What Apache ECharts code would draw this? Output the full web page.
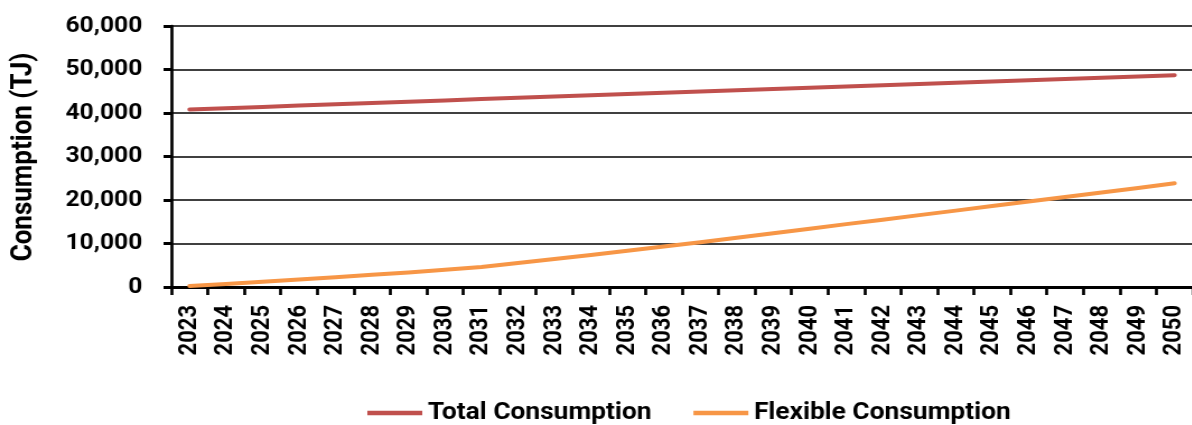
<!DOCTYPE html>
<html>
<head>
<meta charset="utf-8">
<title>Consumption outlook 2023–2050</title>
<script src="https://cdn.jsdelivr.net/npm/echarts@6/dist/echarts.min.js"></script>
<style>
  html, body { margin: 0; padding: 0; background: #fff; overflow: hidden; }
  #wrap { width: 1192px; height: 425px; overflow: hidden; }
  /* chart is laid out on a narrower canvas and widened to the page width */
  #chart { width: 1065px; height: 425px; transform: scaleX(1.12); transform-origin: 0 0; }
</style>
</head>
<body>
<div id="wrap"><div id="chart"></div></div>
<script>
// Years on the category axis
const years = ['2023','2024','2025','2026','2027','2028','2029','2030','2031','2032',
  '2033','2034','2035','2036','2037','2038','2039','2040','2041','2042',
  '2043','2044','2045','2046','2047','2048','2049','2050'];

// Annual consumption, TJ
const totalConsumption = [40800, 41100, 41400, 41700, 42000, 42300, 42600, 42900, 43200, 43500,
  43800, 44090, 44380, 44660, 44950, 45240, 45530, 45820, 46100, 46390,
  46680, 46970, 47260, 47540, 47830, 48120, 48410, 48700];
const flexibleConsumption = [250, 700, 1200, 1700, 2250, 2800, 3350, 3950, 4600, 5500,
  6420, 7360, 8310, 9300, 10300, 11300, 12350, 13400, 14450, 15480,
  16520, 17560, 18600, 19640, 20680, 21720, 22770, 23830];

// Value-axis ticks
const yTicks = [0, 10000, 20000, 30000, 40000, 50000, 60000];

const seriesNames = ['Total Consumption', 'Flexible Consumption'];
const seriesColors = ['#C0504D', '#F79646'];

const FONT = 'Roboto';
const chart = echarts.init(document.getElementById('chart'), null, { renderer: 'canvas' });

chart.setOption({
  animation: false,
  backgroundColor: '#fff',
  grid: { left: 153, right: 0, top: 26, bottom: 138, containLabel: false },
  graphic: [{
    type: 'text',
    x: 21.5, y: 157,
    rotation: Math.PI / 2,
    style: {
      text: 'Consumption (TJ)',
      fontFamily: FONT, fontWeight: 'bold', fontSize: 26,
      fill: '#000', align: 'center', verticalAlign: 'middle'
    }
  }],
  legend: {
    data: seriesNames,
    left: 323, top: 396,
    icon: 'rect', itemWidth: 49, itemHeight: 4.5, itemGap: 37.5,
    textStyle: { fontFamily: FONT, fontWeight: 'bold', fontSize: 23.5, color: '#000', padding: [0, 0, 3, 0] }
  },
  xAxis: {
    type: 'category',
    data: years,
    boundaryGap: true,
    axisLine: { show: true, lineStyle: { color: '#000', width: 3 } },
    axisTick: { show: true, alignWithLabel: false, length: 8, lineStyle: { color: '#000', width: 2.7 } },
    axisLabel: {
      rotate: 90, margin: 18, interval: 0,
      fontFamily: FONT, fontWeight: 'bold', fontSize: 22, color: '#000'
    },
    splitLine: { show: false }
  },
  yAxis: {
    type: 'value',
    min: yTicks[0], max: yTicks[yTicks.length - 1], interval: yTicks[1] - yTicks[0],
    axisLine: { show: true, lineStyle: { color: '#000', width: 2.7 } },
    axisTick: { show: true, length: 7, lineStyle: { color: '#000', width: 3 } },
    axisLabel: {
      margin: 26,
      fontFamily: FONT, fontWeight: 'bold', fontSize: 22, color: '#000',
      formatter: v => v.toLocaleString('en-US')
    },
    splitLine: { show: true, lineStyle: { color: '#000', width: 1.6 } }
  },
  series: [
    {
      name: seriesNames[0], type: 'line', data: totalConsumption,
      showSymbol: false, symbol: 'none',
      color: seriesColors[0],
      lineStyle: { color: seriesColors[0], width: 4, cap: 'round', join: 'round' }
    },
    {
      name: seriesNames[1], type: 'line', data: flexibleConsumption,
      showSymbol: false, symbol: 'none',
      color: seriesColors[1],
      lineStyle: { color: seriesColors[1], width: 4, cap: 'round', join: 'round' }
    }
  ]
});
</script>
</body>
</html>
